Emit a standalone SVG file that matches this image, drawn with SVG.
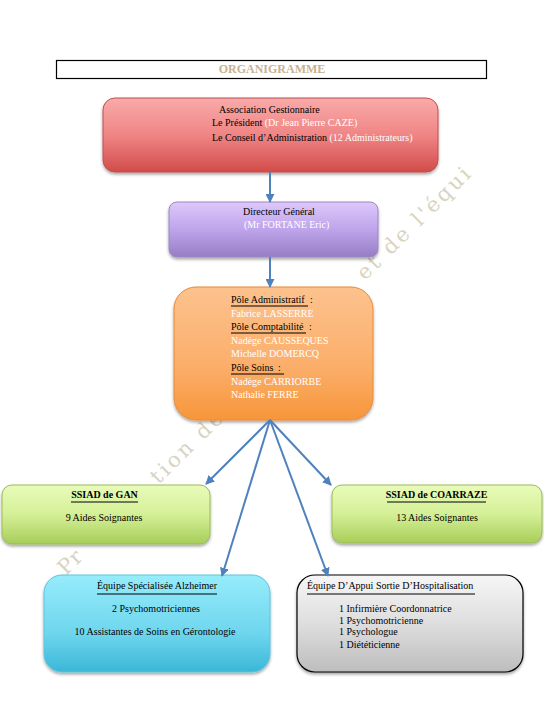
<svg xmlns="http://www.w3.org/2000/svg" width="544" height="710" viewBox="0 0 544 710">
<defs>
<style>
text{font-family:"Liberation Serif","Times New Roman",serif;font-size:10px;fill:#000}
.w{fill:#fff}
.b{font-weight:bold}
.wm{font-family:"DejaVu Serif","Liberation Serif",serif;font-size:21px;fill:#d9d4bf}
.ul{stroke:#000;stroke-width:1}
.conn{stroke:#4f81bd;stroke-width:2;fill:none;marker-end:url(#arr)}
</style>
<linearGradient id="gRed" x1="0" y1="0" x2="0" y2="1"><stop offset="0" stop-color="#f9aaaa"/><stop offset="0.5" stop-color="#f08585"/><stop offset="1" stop-color="#d24c4a"/></linearGradient>
<linearGradient id="gPur" x1="0" y1="0" x2="0" y2="1"><stop offset="0" stop-color="#dec8fb"/><stop offset="0.5" stop-color="#bea4ea"/><stop offset="1" stop-color="#977dc4"/></linearGradient>
<linearGradient id="gOra" x1="0" y1="0" x2="0" y2="1"><stop offset="0" stop-color="#fdc28e"/><stop offset="0.6" stop-color="#fbae6a"/><stop offset="1" stop-color="#f7963a"/></linearGradient>
<linearGradient id="gGrn" x1="0" y1="0" x2="0" y2="1"><stop offset="0" stop-color="#e9fbba"/><stop offset="0.5" stop-color="#d4f096"/><stop offset="1" stop-color="#a8cd5a"/></linearGradient>
<linearGradient id="gCya" x1="0" y1="0" x2="0" y2="1"><stop offset="0" stop-color="#96ecfb"/><stop offset="0.6" stop-color="#6ed6ee"/><stop offset="1" stop-color="#3bb7d7"/></linearGradient>
<linearGradient id="gGry" x1="0" y1="0" x2="0" y2="1"><stop offset="0" stop-color="#f6f6f6"/><stop offset="0.5" stop-color="#dedede"/><stop offset="1" stop-color="#bdbdbd"/></linearGradient>
<filter id="sh" x="-10%" y="-10%" width="120%" height="130%"><feDropShadow dx="0" dy="2" stdDeviation="1.6" flood-color="#000" flood-opacity="0.35"/></filter>
<marker id="arr" viewBox="0 0 10 10" refX="9" refY="5" markerWidth="9" markerHeight="9" markerUnits="userSpaceOnUse" orient="auto"><path d="M0,0 L10,5 L0,10 z" fill="#4f81bd"/></marker>
</defs>
<rect width="544" height="710" fill="#fff"/>

<g id="watermark" transform="translate(66,576) rotate(-44.6)">
<text class="wm" x="0" y="0" textLength="25" lengthAdjust="spacing">Pr</text>
<text class="wm" x="130" y="0" textLength="92" lengthAdjust="spacing">tion de</text>
<text class="wm" x="420" y="0" textLength="150" lengthAdjust="spacing">et de l'équi</text>
</g>

<g id="title">
<rect x="56.5" y="60.5" width="430" height="18" fill="#fff" stroke="#000" stroke-width="1.2"/>
<text x="272" y="73" text-anchor="middle" style="font-size:12px;fill:#c9b18e;font-weight:bold">ORGANIGRAMME</text>
</g>

<g id="association">
<rect x="103" y="98" width="335" height="74" rx="12" fill="url(#gRed)" stroke="#c0504d" stroke-width="1" filter="url(#sh)"/>
<text x="219" y="113">Association Gestionnaire</text>
<text x="212" y="126">Le Président <tspan class="w">(Dr Jean Pierre CAZE)</tspan></text>
<text x="212" y="141">Le Conseil d’Administration <tspan class="w">(12 Administrateurs)</tspan></text>
</g>

<g id="directeur">
<rect x="169" y="202" width="209" height="55" rx="8" fill="url(#gPur)" stroke="#9b87c4" stroke-width="1" filter="url(#sh)"/>
<text x="243" y="215">Directeur Général</text>
<text x="244" y="228" class="w">(Mr FORTANE Eric)</text>
</g>

<g id="poles">
<rect x="174" y="287" width="199" height="133" rx="22" fill="url(#gOra)" stroke="#e98a36" stroke-width="1" filter="url(#sh)"/>
<text x="231" y="303">Pôle Administratif</text><text x="310" y="303">:</text>
<line class="ul" x1="231" y1="306" x2="308" y2="306"/>
<text x="231" y="317" class="w">Fabrice LASSERRE</text>
<text x="231" y="330">Pôle Comptabilité</text><text x="309" y="330">:</text>
<line class="ul" x1="231" y1="333" x2="306" y2="333"/>
<text x="231" y="344" class="w">Nadège CAUSSEQUES</text>
<text x="231" y="357" class="w">Michelle DOMERCQ</text>
<text x="231" y="371">Pôle Soins</text><text x="278" y="371">:</text>
<line class="ul" x1="231" y1="374" x2="284" y2="374"/>
<text x="231" y="385" class="w">Nadège CARRIORBE</text>
<text x="231" y="398" class="w">Nathalie FERRE</text>
</g>

<g id="ssiad-gan">
<rect x="2" y="485" width="208" height="59" rx="10" fill="url(#gGrn)" stroke="#9bbb59" stroke-width="1" filter="url(#sh)"/>
<text x="104.5" y="498" text-anchor="middle" class="b">SSIAD de GAN</text>
<line class="ul" x1="71" y1="502" x2="138" y2="502"/>
<text x="104" y="521" text-anchor="middle">9 Aides Soignantes</text>
</g>

<g id="ssiad-coarraze">
<rect x="332" y="485" width="210" height="58" rx="10" fill="url(#gGrn)" stroke="#9bbb59" stroke-width="1" filter="url(#sh)"/>
<text x="436.5" y="498" text-anchor="middle" class="b">SSIAD de COARRAZE</text>
<line class="ul" x1="387" y1="502" x2="486" y2="502"/>
<text x="437" y="521" text-anchor="middle">13 Aides Soignantes</text>
</g>

<g id="alzheimer">
<rect x="44" y="575" width="226" height="97" rx="18" fill="url(#gCya)" stroke="#5cc3db" stroke-width="1" filter="url(#sh)"/>
<text x="157" y="589" text-anchor="middle">Équipe Spécialisée Alzheimer</text>
<line class="ul" x1="97" y1="594" x2="217" y2="594"/>
<text x="156" y="612" text-anchor="middle">2 Psychomotriciennes</text>
<text x="155" y="635" text-anchor="middle">10 Assistantes de Soins en Gérontologie</text>
</g>

<g id="hospitalisation">
<rect x="297" y="575" width="226" height="97" rx="18" fill="url(#gGry)" stroke="#000" stroke-width="1.2" filter="url(#sh)"/>
<text x="307" y="589">Équipe D’Appui Sortie D’Hospitalisation</text>
<line class="ul" x1="307" y1="594" x2="475" y2="594"/>
<text x="339" y="612">1 Infirmière Coordonnatrice</text>
<text x="339" y="624">1 Psychomotricienne</text>
<text x="339" y="635">1 Psychologue</text>
<text x="339" y="648">1 Diététicienne</text>
</g>

<g id="connectors">
<line class="conn" x1="270" y1="172" x2="270" y2="202"/>
<line class="conn" x1="270" y1="257" x2="270" y2="287"/>
<line class="conn" x1="270" y1="420" x2="206" y2="484"/>
<line class="conn" x1="270" y1="420" x2="331" y2="485"/>
<line class="conn" x1="270" y1="420" x2="222" y2="576"/>
<line class="conn" x1="270" y1="420" x2="328" y2="576"/>
</g>
</svg>
